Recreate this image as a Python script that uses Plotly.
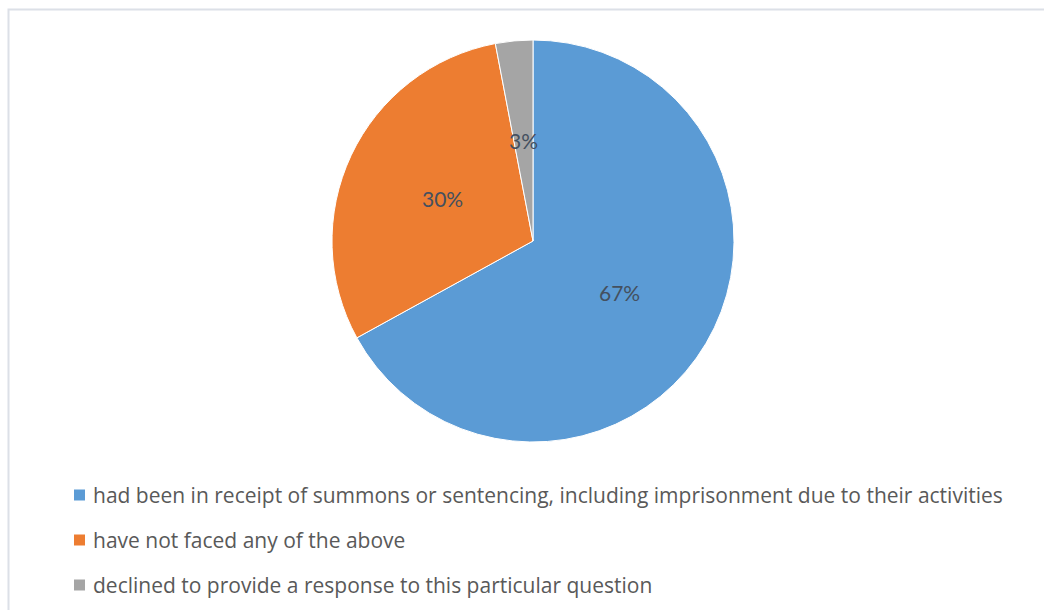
import math
import plotly.graph_objects as go

labels = [
    "had been in receipt of summons or sentencing, including imprisonment due to their activities",
    "have not faced any of the above",
    "declined to provide a response to this particular question",
]
values = [67, 30, 3]
colors = ["#5B9BD5", "#ED7D31", "#A5A5A5"]

W, H = 1044, 610
cx, cy, r = 533, 241, 201

fig = go.Figure(
    go.Pie(
        labels=labels,
        values=values,
        sort=False,
        direction="clockwise",
        rotation=0,
        marker=dict(colors=colors, line=dict(color="white", width=1)),
        textinfo="none",
        hoverinfo="label+percent",
        showlegend=False,
        domain=dict(x=[(cx - r) / W, (cx + r) / W], y=[1 - (cy + r) / H, 1 - (cy - r) / H]),
    )
)

shapes = [
    dict(type="rect", xref="paper", yref="paper", x0=8.5 / W, x1=1.2, y0=-0.2, y1=1 - 9.5 / H,
         line=dict(color="#DCE0E7", width=2), fillcolor="rgba(0,0,0,0)", layer="below")
]
annotations = []

# data labels at half radius, mid-angle of each slice (clockwise from 12 o'clock)
total = sum(values)
cum = 0.0
for v in values:
    mid = (cum + v / 2) / total * 2 * math.pi
    cum += v
    px = cx + 0.5 * r * math.sin(mid)
    py = cy - 0.5 * r * math.cos(mid)
    annotations.append(dict(text=f"{round(v / total * 100)}%", xref="paper", yref="paper",
                            x=px / W, y=1 - py / H, xanchor="center", yanchor="middle",
                            showarrow=False,
                            font=dict(family="Lato", size=21, color="#44505F")))

leg_y0, leg_gap = 495, 45
for i, (lab, col) in enumerate(zip(labels, colors)):
    yc = leg_y0 + i * leg_gap
    shapes.append(dict(type="rect", xref="paper", yref="paper",
                       x0=74 / W, x1=85 / W, y0=1 - (yc + 5.5) / H, y1=1 - (yc - 5.5) / H,
                       fillcolor=col, line=dict(width=0)))
    annotations.append(dict(text=lab, xref="paper", yref="paper", x=91 / W, y=1 - yc / H,
                            xanchor="left", yanchor="middle", showarrow=False,
                            font=dict(family="Open Sans", size=21, color="#595959")))

fig.update_layout(
    width=W, height=H,
    margin=dict(l=0, r=0, t=0, b=0),
    paper_bgcolor="white",
    plot_bgcolor="white",
    shapes=shapes,
    annotations=annotations,
)

fig.write_html("out.html")
